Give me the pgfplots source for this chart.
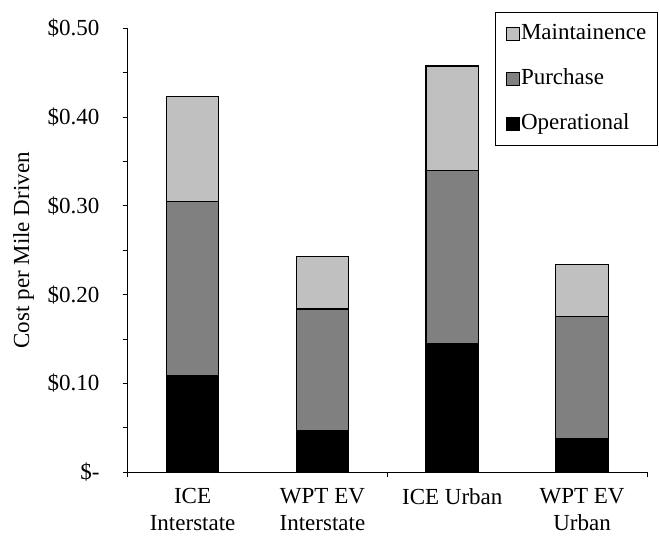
\documentclass[border=0pt]{standalone}
\usepackage{fontspec}
\setmainfont{Liberation Serif}
\usepackage{pgfplots}
\pgfplotsset{compat=1.18}
\definecolor{maint}{HTML}{C0C0C0}
\definecolor{purch}{HTML}{808080}
\begin{document}
\fontsize{23}{27}\selectfont
\begin{tikzpicture}
\useasboundingbox (-127.7pt,-64.7pt) rectangle (531.3pt,472.3pt);
\begin{axis}[
  at={(0pt,0pt)}, anchor=south west,
  scale only axis, width=519.3pt, height=444pt,
  ybar stacked, bar width=52.5pt,
  xmin=-0.5, xmax=3.5, ymin=0, ymax=0.5,
  axis x line*=bottom, axis y line*=left,
  axis line style={line width=1.3pt},
  tick align=outside, major tick length=5pt, minor tick length=5pt,
  tick style={line width=0.8pt, black},
  xtick={-0.5,1.5,3.5}, xticklabels={},
  extra x ticks={0,1,2,3},
  extra x tick labels={ICE\\Interstate, WPT EV\\Interstate, ICE Urban, WPT EV\\Urban},
  extra x tick style={major tick length=0pt,
    xticklabel style={align=center, inner sep=0pt, anchor=north, yshift=-16pt}},
  ytick={0,0.1,0.2,0.3,0.4,0.5},
  minor ytick={0.05,0.15,0.25,0.35,0.45},
  yticklabels={\$-\hspace{0.55em},\$0.10,\$0.20,\$0.30,\$0.40,\$0.50},
  yticklabel style={anchor=east, inner sep=0pt, xshift=-23pt},
  every tick label/.append style={font=\fontsize{23}{27}\selectfont},
  ylabel={Cost per Mile Driven},
  ylabel style={at={(axis description cs:-0.2007,0.5)}, anchor=center,
    font=\fontsize{23}{27}\selectfont},
  reverse legend,
  legend cell align=left,
  legend style={at={(axis description cs:1.0212,1.0367)}, anchor=north east,
    draw=black, line width=0.6pt, inner xsep=10pt, inner ysep=11pt,
    row sep=24pt, font=\fontsize{23}{27}\selectfont,
    nodes={inner xsep=1.5pt, inner ysep=0pt, text height=16pt, text depth=5pt}},
  legend image code/.code={\draw[#1,draw=black,line width=0.8pt] (0pt,-6.5pt) rectangle (13pt,6.5pt);},
]
\addplot[fill=black, draw=black, line width=1.2pt] coordinates {(0,0.109) (1,0.047) (2,0.1445) (3,0.038)};
\addplot[fill=purch, draw=black, line width=1.2pt] coordinates {(0,0.196) (1,0.137) (2,0.1955) (3,0.137)};
\addplot[fill=maint, draw=black, line width=1.2pt] coordinates {(0,0.118) (1,0.059) (2,0.1175) (3,0.059)};
\legend{Operational,Purchase,Maintainence}
\end{axis}
\end{tikzpicture}
\end{document}
